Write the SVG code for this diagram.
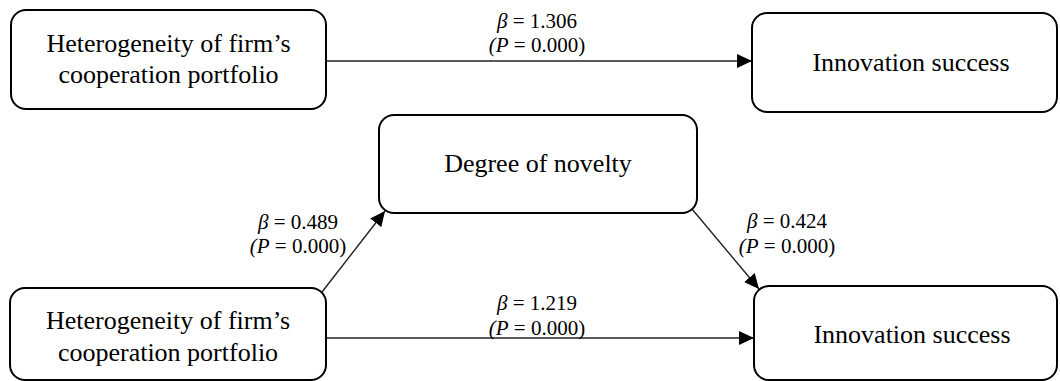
<svg xmlns="http://www.w3.org/2000/svg" width="1060" height="381" viewBox="0 0 1060 381">
<style>
.box{fill:#fff;stroke:#000;stroke-width:2}
.nt{font-family:"Liberation Serif","Times New Roman",serif;font-size:26px;fill:#000;text-anchor:middle}
.lb{font-family:"Liberation Serif","Times New Roman",serif;font-size:21px;fill:#000;text-anchor:middle}
.it{font-style:italic}
.edge{stroke:#222;stroke-width:1.4;fill:none;marker-end:url(#ah)}
</style>
<defs>
<marker id="ah" markerUnits="userSpaceOnUse" markerWidth="16" markerHeight="14" refX="15" refY="7" orient="auto">
<path d="M0,0 L15,7 L0,14 z" fill="#000"/>
</marker>
</defs>
<rect width="1060" height="381" fill="#fff"/>
<g id="connectors">
<line class="edge" x1="326" y1="61" x2="752" y2="61"/>
<line class="edge" x1="326" y1="338" x2="754" y2="338"/>
<line class="edge" x1="322" y1="292" x2="385" y2="211"/>
<line class="edge" x1="692" y1="209" x2="759" y2="289"/>
<text class="lb" x="537" y="28"><tspan class="it">β</tspan> = 1.306</text>
<text class="lb" x="537" y="52"><tspan class="it">(P</tspan> = 0.000)</text>
<text class="lb" x="537" y="310"><tspan class="it">β</tspan> = 1.219</text>
<text class="lb" x="537" y="335"><tspan class="it">(P</tspan> = 0.000)</text>
<text class="lb" x="298" y="229"><tspan class="it">β</tspan> = 0.489</text>
<text class="lb" x="298" y="253"><tspan class="it">(P</tspan> = 0.000)</text>
<text class="lb" x="787" y="228"><tspan class="it">β</tspan> = 0.424</text>
<text class="lb" x="787" y="253"><tspan class="it">(P</tspan> = 0.000)</text>
</g>
<g id="het1">
<rect class="box" x="11" y="10" width="315" height="99" rx="15"/>
<text class="nt" x="168.5" y="52">Heterogeneity of firm’s</text>
<text class="nt" x="168.5" y="83">cooperation portfolio</text>
</g>
<g id="inno1">
<rect class="box" x="752" y="13" width="305" height="99" rx="15"/>
<text class="nt" x="911" y="71">Innovation success</text>
</g>
<g id="novelty">
<rect class="box" x="379" y="115" width="318" height="98" rx="15"/>
<text class="nt" x="538" y="172">Degree of novelty</text>
</g>
<g id="het2">
<rect class="box" x="10" y="288" width="316" height="92" rx="15"/>
<text class="nt" x="168" y="329">Heterogeneity of firm’s</text>
<text class="nt" x="168" y="361">cooperation portfolio</text>
</g>
<g id="inno2">
<rect class="box" x="754" y="286" width="303" height="94" rx="15"/>
<text class="nt" x="912" y="343">Innovation success</text>
</g>
</svg>
